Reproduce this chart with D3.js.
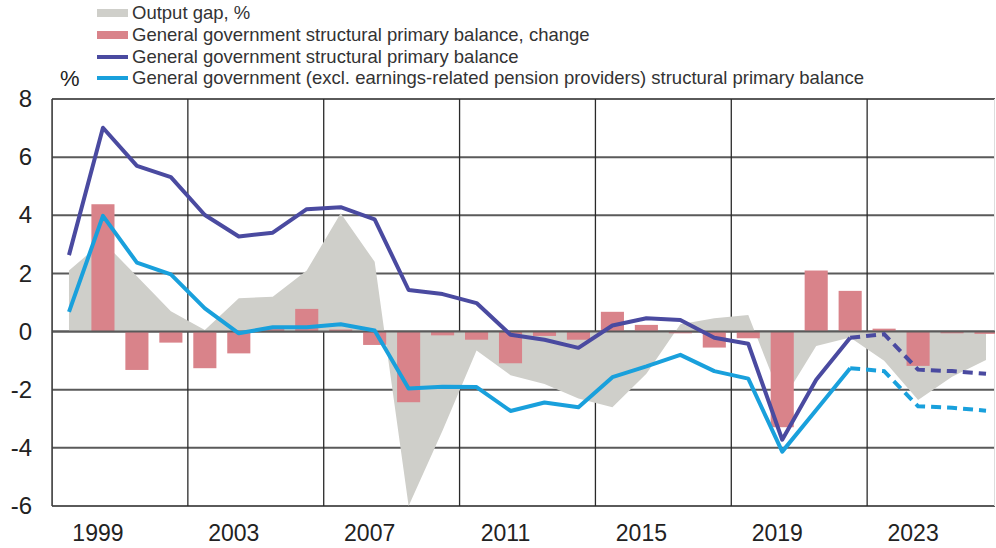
<!DOCTYPE html>
<head>
<meta charset="utf-8">
<style>
body { margin: 0; background: #fff; }
svg { display: block; font-family: "Liberation Sans", Arial, sans-serif; }
.grid-h { stroke: #5a5a5a; stroke-width: 2px; }
.grid-v { stroke: #2a2a2a; stroke-width: 1.3px; }
.axis text { fill: #222; font-size: 24px; }
.axis.x text { font-size: 23px; }
.legend text { fill: #333; font-size: 18.5px; }
</style>
<script src="https://cdn.jsdelivr.net/npm/d3@7"></script>
</head>
<body>
<svg class="chart" width="996" height="548"></svg>
<script>

// Years on the category axis
var years = d3.range(1998, 2026);
var labelYears = [1999, 2003, 2007, 2011, 2015, 2019, 2023];
var yTicks = [-6, -4, -2, 0, 2, 4, 6, 8];
var forecastFrom = 2021;

// Output gap, %
var outputGap = [2.1, 3.1, 1.9, 0.7, 0.05, 1.15, 1.2, 2.1, 4.07, 2.4,
  -6.0, -3.4, -0.65, -1.5, -1.8, -2.3, -2.6, -1.45, 0.25, 0.46,
  0.57, -2.4, -0.5, -0.2, -1.0, -2.35, -1.55, -0.98];

// General government structural primary balance, change
var balanceChange = [0, 4.38, -1.32, -0.38, -1.26, -0.75, 0.13, 0.78, 0.07, -0.46,
  -2.43, -0.13, -0.28, -1.09, -0.15, -0.28, 0.68, 0.23, -0.06, -0.55,
  -0.23, -3.29, 2.10, 1.40, 0.10, -1.18, -0.06, -0.08];

// General government structural primary balance
var balance = [2.63, 7.01, 5.70, 5.31, 4.01, 3.27, 3.40, 4.21, 4.28, 3.86,
  1.43, 1.29, 0.98, -0.11, -0.28, -0.56, 0.21, 0.46, 0.40, -0.21,
  -0.42, -3.72, -1.66, -0.21, -0.09, -1.31, -1.36, -1.45];

// General government (excl. earnings-related pension providers) structural primary balance
var balanceExcl = [0.68, 3.98, 2.37, 1.97, 0.80, -0.06, 0.15, 0.15, 0.25, 0.04,
  -1.96, -1.90, -1.91, -2.73, -2.44, -2.60, -1.57, -1.20, -0.80, -1.36,
  -1.62, -4.13, -2.70, -1.26, -1.36, -2.57, -2.62, -2.72];

var legendItems = [
  {label: "Output gap, %", type: "area", color: "#cfcfca"},
  {label: "General government structural primary balance, change", type: "bar", color: "#d9838a"},
  {label: "General government structural primary balance", type: "line", color: "#4a4aa0"},
  {label: "General government (excl. earnings-related pension providers) structural primary balance", type: "line", color: "#19a0dc"}
];

function drawChart() {
  var svg = d3.select(".chart"),
    left = 52, right = 995, top = 99, bottom = 506;

  // Band scale for bars, plain band scale for category boundaries
  var x = d3.scaleBand().domain(years).range([left, 1003]).paddingInner(0.32).paddingOuter(0.16);
  var xb = d3.scaleBand().domain(years).range([left, 1003]);
  var y = d3.scaleLinear().domain([-6, 8]).range([bottom, top]);
  var cx = function(yr) { return xb(yr) + xb.bandwidth() / 2; };

  var defs = svg.append("defs");
  defs.append("clipPath").attr("id", "plot-clip")
    .append("rect").attr("x", left).attr("y", top - 5).attr("width", right - left).attr("height", bottom - top + 10);

  var g = svg.append("g").attr("clip-path", "url(#plot-clip)");

  // Gridlines
  g.selectAll(".grid-h").data(yTicks).enter().append("line")
    .attr("class", "grid-h")
    .attr("x1", left).attr("x2", right)
    .attr("y1", function(d) { return y(d); }).attr("y2", function(d) { return y(d); })
    .attr("stroke", function(d) { return d === 8 ? "#8a8a8a" : null; });
  var boundaries = years.filter(function(d, i) { return i % 4 === 0; });
  g.selectAll(".grid-v").data(boundaries).enter().append("line")
    .attr("class", "grid-v")
    .attr("x1", function(d) { return xb(d); }).attr("x2", function(d) { return xb(d); })
    .attr("y1", top).attr("y2", bottom);
  g.append("line").attr("x1", right - 0.5).attr("x2", right - 0.5).attr("y1", top).attr("y2", bottom)
    .attr("stroke", "#ddd").attr("stroke-width", 1);

  // Output gap area
  var gapData = years.map(function(d, i) { return {year: d, v: outputGap[i]}; });
  g.append("path")
    .datum(gapData)
    .attr("fill", legendItems[0].color)
    .attr("d", d3.area()
      .x(function(d) { return cx(d.year); })
      .y0(y(0))
      .y1(function(d) { return y(d.v); }));

  // Change bars
  var barData = years.map(function(d, i) { return {year: d, v: balanceChange[i]}; });
  g.selectAll(".bar").data(barData).enter().append("rect")
    .attr("class", "bar")
    .attr("fill", legendItems[1].color)
    .attr("x", function(d) { return x(d.year); })
    .attr("width", x.bandwidth())
    .attr("y", function(d) { return y(Math.max(0, d.v)); })
    .attr("height", function(d) { return Math.abs(y(d.v) - y(0)); });

  // Zero line on top of area and bars
  g.append("line").attr("class", "grid-h")
    .attr("x1", left).attr("x2", right).attr("y1", y(0)).attr("y2", y(0));

  // Balance lines, solid for outturn and dashed for forecast
  var line = d3.line()
    .x(function(d) { return cx(d.year); })
    .y(function(d) { return y(d.v); });
  [balance, balanceExcl].forEach(function(series, k) {
    var pts = years.map(function(d, i) { return {year: d, v: series[i]}; });
    var color = legendItems[k + 2].color;
    g.append("path")
      .datum(pts.filter(function(d) { return d.year <= forecastFrom; }))
      .attr("fill", "none").attr("stroke", color).attr("stroke-width", 4)
      .attr("stroke-linejoin", "round")
      .attr("d", line);
    g.append("path")
      .datum(pts.filter(function(d) { return d.year >= forecastFrom; }))
      .attr("fill", "none").attr("stroke", color).attr("stroke-width", 4)
      .attr("stroke-dasharray", "10,6")
      .attr("d", line);
  });

  // Axes
  var yAxis = svg.append("g").attr("class", "axis y")
    .attr("transform", "translate(" + left + ",0)")
    .call(d3.axisLeft(y).tickValues(yTicks).tickSize(0).tickPadding(20)
      .tickFormat(function(d) { return String(d); }));
  yAxis.select(".domain").remove();
  yAxis.selectAll("text").attr("font-family", null).attr("font-size", null);

  svg.append("line").attr("x1", left).attr("x2", left).attr("y1", top).attr("y2", bottom)
    .attr("stroke", "#444").attr("stroke-width", 1.5);

  var xAxis = svg.append("g").attr("class", "axis x")
    .attr("transform", "translate(0," + bottom + ")")
    .call(d3.axisBottom(xb).tickValues(labelYears).tickSize(0).tickPadding(19));
  xAxis.select(".domain").remove();
  xAxis.selectAll("text").attr("font-family", null).attr("font-size", null).attr("dx", -5);

  // Unit label
  svg.append("text").attr("x", 60).attr("y", 86)
    .attr("fill", "#222").attr("font-size", 22).text("%");

  // Legend
  var legend = svg.append("g").attr("class", "legend");
  var rowY = [13, 35, 57, 78];
  legendItems.forEach(function(item, i) {
    var row = legend.append("g").attr("transform", "translate(0," + rowY[i] + ")");
    if (item.type === "area" || item.type === "bar") {
      row.append("rect").attr("x", 97).attr("y", -4).attr("width", 31).attr("height", 8).attr("fill", item.color);
    } else {
      row.append("line").attr("x1", 97).attr("x2", 128).attr("stroke", item.color).attr("stroke-width", 4);
    }
    row.append("text").attr("x", 132).attr("dy", "0.35em").text(item.label);
  });
}

drawChart();
</script>
</body>
